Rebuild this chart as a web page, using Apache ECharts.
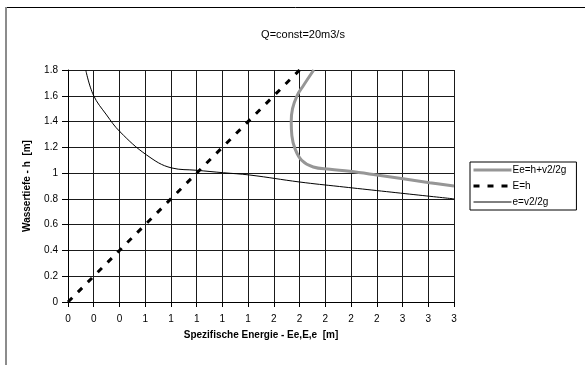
<!DOCTYPE html>
<html>
<head>
<meta charset="utf-8">
<script src="https://cdn.jsdelivr.net/npm/echarts@6/dist/echarts.min.js"></script>
<style>
  html, body { margin: 0; padding: 0; background: #fff; }
  #chart { width: 585px; height: 365px; }
</style>
</head>
<body>
<div id="chart"></div>
<script>
// Specific energy diagram for a constant discharge
const titleText = 'Q=const=20m3/s';
const seriesNames = ['Ee=h+v2/2g', 'E=h', 'e=v2/2g'];

// Ee = h + v^2/2g  (energy, water depth)
const eeEnergy = [1.91, 1.83, 1.78, 1.745, 1.735, 1.74, 1.764, 1.816, 1.906, 2.036, 2.19, 2.40, 2.81, 3.0];
const eeDepth  = [1.80, 1.68, 1.60, 1.50, 1.40, 1.29, 1.19, 1.10, 1.047, 1.03, 1.014, 0.985, 0.926, 0.90];

// E = h  (energy, water depth)
const eEnergy = [0, 1.8];
const eDepth  = [0, 1.8];

// e = v^2/2g  (velocity head, water depth)
const vhEnergy = [0.138, 0.197, 0.30, 0.404, 0.612, 0.806, 1.0, 1.207, 1.414, 1.80, 2.11, 3.0];
const vhDepth  = [1.80, 1.606, 1.451, 1.321, 1.14, 1.04, 1.022, 1.003, 0.985, 0.931, 0.896, 0.80];

// Axis tick labels (x labels are shown rounded to whole metres)
const xTickLabels = ['0','0','0','1','1','1','1','1','2','2','2','2','2','3','3','3'];
const yTickLabels = ['0','0.2','0.4','0.6','0.8','1','1.2','1.4','1.6','1.8'];

const pairs = (xs, ys) => xs.map((x, i) => [x, ys[i]]);
const FONT = 'Liberation Sans, Arial, sans-serif';

const styles = [
  { color: '#969696', width: 3, type: 'solid' },
  { color: '#000', width: 3, type: [6, 8] },
  { color: '#000', width: 1, type: 'solid' }
];

const chart = echarts.init(document.getElementById('chart'), null, { renderer: 'canvas' });
chart.setOption({
  animation: false,
  backgroundColor: '#fff',
  title: {
    text: titleText,
    left: 298,
    top: 24,
    textAlign: 'center',
    textStyle: { fontFamily: FONT, fontSize: 11, fontWeight: 'normal', color: '#000' }
  },
  graphic: [
    { type: 'line', shape: { x1: 6, y1: 7.5, x2: 585, y2: 7.5 }, style: { stroke: '#000', lineWidth: 1 }, silent: true },
    { type: 'line', shape: { x1: 6, y1: 7, x2: 6, y2: 365 }, style: { stroke: '#8c8c8c', lineWidth: 2 }, silent: true }
  ],
  legend: {
    orient: 'vertical',
    left: 470,
    top: 162,
    data: seriesNames.map((n, i) => ({ name: n, lineStyle: styles[i], itemStyle: { opacity: 0 } })),
    itemWidth: 38,
    itemHeight: 10,
    itemGap: 6,
    padding: [3, 10, 3, 2],
    borderColor: '#000',
    borderWidth: 1,
    backgroundColor: '#fff',
    itemStyle: { opacity: 0 },
    textStyle: { fontFamily: FONT, fontSize: 10, color: '#000', padding: [0, 0, 0, -4] }
  },
  grid: { left: 68, top: 70, width: 386, height: 232 },
  xAxis: {
    type: 'value',
    min: 0, max: 3, interval: 0.2,
    name: 'Spezifische Energie - Ee,E,e  [m]',
    nameLocation: 'middle',
    nameGap: 28,
    nameTextStyle: { fontFamily: FONT, fontSize: 10, fontWeight: 'bold', color: '#000' },
    axisLine: { lineStyle: { color: '#000', width: 1 } },
    axisTick: { length: 5, lineStyle: { color: '#000' } },
    axisLabel: {
      fontFamily: FONT, fontSize: 10, color: '#000', margin: 12,
      formatter: (v) => xTickLabels[Math.round(v / 0.2)]
    },
    splitLine: { show: true, lineStyle: { color: '#1a1a1a', width: 1 } }
  },
  yAxis: {
    type: 'value',
    min: 0, max: 1.8, interval: 0.2,
    name: 'Wassertiefe - h  [m]',
    nameLocation: 'middle',
    nameGap: 36,
    nameTextStyle: { fontFamily: FONT, fontSize: 10, fontWeight: 'bold', color: '#000' },
    axisLine: { lineStyle: { color: '#000', width: 1 } },
    axisTick: { length: 6, lineStyle: { color: '#000' } },
    axisLabel: {
      fontFamily: FONT, fontSize: 10, color: '#000', margin: 10,
      formatter: (v) => yTickLabels[Math.round(v / 0.2)]
    },
    splitLine: { show: true, lineStyle: { color: '#1a1a1a', width: 1 } }
  },
  series: [
    {
      name: seriesNames[0], type: 'line', data: pairs(eeEnergy, eeDepth),
      showSymbol: false, symbol: 'none', smooth: 0.4, clip: true,
      lineStyle: styles[0], itemStyle: { color: styles[0].color }, z: 3
    },
    {
      name: seriesNames[1], type: 'line', data: pairs(eEnergy, eDepth),
      showSymbol: false, symbol: 'none',
      lineStyle: styles[1], itemStyle: { color: styles[1].color }, z: 4
    },
    {
      name: seriesNames[2], type: 'line', data: pairs(vhEnergy, vhDepth),
      showSymbol: false, symbol: 'none', smooth: 0.4, clip: true,
      lineStyle: styles[2], itemStyle: { color: styles[2].color }, z: 5
    }
  ]
});
</script>
</body>
</html>
